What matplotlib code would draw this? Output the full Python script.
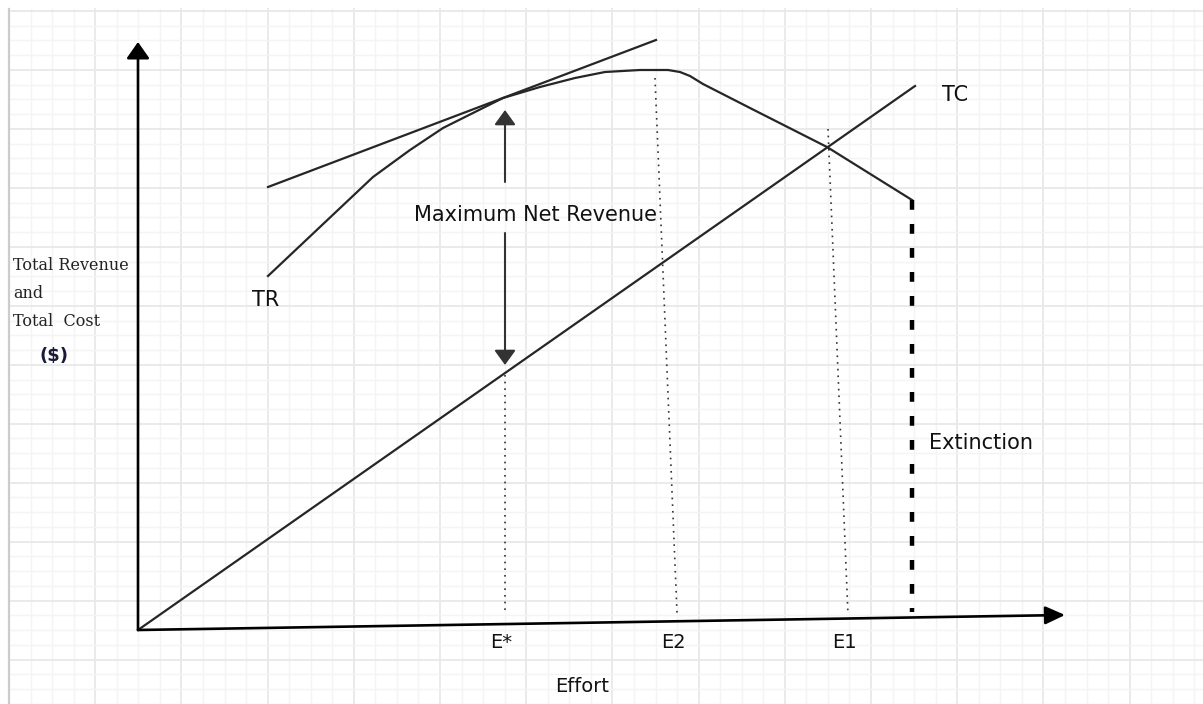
import numpy as np
import matplotlib
matplotlib.use('Agg')
import matplotlib.pyplot as plt
from matplotlib.patches import FancyArrowPatch

plt.rcParams['font.family'] = ['DejaVu Sans']

# 曲线数据 (effort, $)
tr_effort = [130, 235, 272, 305, 337, 365, 402, 437, 467, 502, 530, 542, 552, 565, 612, 689, 774]
tr_value = [354, 453, 480, 502, 518, 532, 543, 552, 558, 560, 560, 558, 554, 546, 522, 483, 430]
tc_effort = [0, 777]
tc_value = [0, 544]
tangent_effort = [130, 518]
tangent_value = [443, 590]

# 竖直虚线: (x_top, y_top, x_bottom, y_bottom)
marker_names = ['E*', 'E2', 'E1']
marker_top_x = [367, 517, 690]
marker_top_y = [255, 552, 501]
marker_bottom_x = [367, 539, 710]
marker_bottom_y = [18, 17, 15]
extinction_x = 774
extinction_top = 430
max_net_x = 367
max_net_top = 520
max_net_bottom = 265

fig = plt.figure(figsize=(12.03, 7.04), dpi=100)
ax = fig.add_axes([0, 0, 1, 1])
ax.set_xlim(-138, 1065)
ax.set_ylim(-74, 630)
ax.axis('off')

# 背景网格
grid_x = 9 - 138 + 21.55 * np.arange(0, 56)
for k, gx in enumerate(grid_x):
    major = k % 4 == 0
    ax.plot([gx, gx], [-74, 621], color='#e8e8e8' if major else '#f4f4f4',
            lw=1.3 if major else 1.0, zorder=0)
grid_y = 630 - 11 - 14.74 * np.arange(0, 48)
for k, gy in enumerate(grid_y):
    if gy < -74:
        break
    major = k % 4 == 0
    ax.plot([-129, 1065], [gy, gy], color='#e8e8e8' if major else '#f4f4f4',
            lw=1.3 if major else 1.0, zorder=0)
ax.plot([-129, -129], [-74, 621], color='#cccccc', lw=1.6, zorder=0)

# 坐标轴
def arrow(p0, p1, lw, color, hl=10, hw=5.5):
    ax.add_patch(FancyArrowPatch(p0, p1, arrowstyle=f'-|>,head_length={hl},head_width={hw}',
                                 mutation_scale=1, lw=lw, color=color,
                                 shrinkA=0, shrinkB=0, zorder=3))

arrow((0, 0), (0, 588), 1.9, 'black', hl=10, hw=7)
arrow((0, 0), (927, 15), 1.9, 'black', hl=12, hw=5.5)

# TR, TC, 切线
ax.plot(tr_effort, tr_value, color='#262626', lw=1.6, zorder=2)
ax.plot(tc_effort, tc_value, color='#262626', lw=1.6, zorder=2)
ax.plot(tangent_effort, tangent_value, color='#262626', lw=1.6, zorder=2)

# 虚线
for i in range(len(marker_names)):
    ax.plot([marker_top_x[i], marker_bottom_x[i]], [marker_top_y[i], marker_bottom_y[i]],
            color='#333333', lw=1.2, dashes=(1.0, 3.0), zorder=1)
    ax.text(marker_bottom_x[i] - 4, -13, marker_names[i], fontsize=14,
            ha='center', va='center', color='#111111')
ax.plot([extinction_x, extinction_x], [extinction_top, 18], color='black', lw=3.2,
        dashes=(2.2, 3.2), zorder=2)

# 最大净收益箭头
arrow((max_net_x, 448), (max_net_x, max_net_top), 1.5, '#333333', hl=9, hw=6.5)
arrow((max_net_x, 397), (max_net_x, max_net_bottom), 1.5, '#333333', hl=9, hw=6.5)

ax.text(397, 415, 'Maximum Net Revenue', fontsize=15, ha='center', va='center', color='#111111')
ax.text(128, 330, 'TR', fontsize=15, ha='center', va='center', color='#111111')
ax.text(817, 535, 'TC', fontsize=15, ha='center', va='center', color='#111111')
ax.text(791, 187, 'Extinction', fontsize=15, ha='left', va='center', color='#111111')
ax.text(444, -57, 'Effort', fontsize=14, ha='center', va='center', color='#111111')

# y轴标签
ax.text(-125, 364, 'Total Revenue', fontsize=11.5, family='DejaVu Serif', ha='left', va='center', color='#222222')
ax.text(-125, 337, 'and', fontsize=11.5, family='DejaVu Serif', ha='left', va='center', color='#222222')
ax.text(-125, 309, 'Total  Cost', fontsize=11.5, family='DejaVu Serif', ha='left', va='center', color='#222222')
ax.text(-84, 274, '($)', fontsize=13, fontweight='bold', ha='center', va='center', color='#1a1a3a')

plt.savefig('out.png', dpi=100)
